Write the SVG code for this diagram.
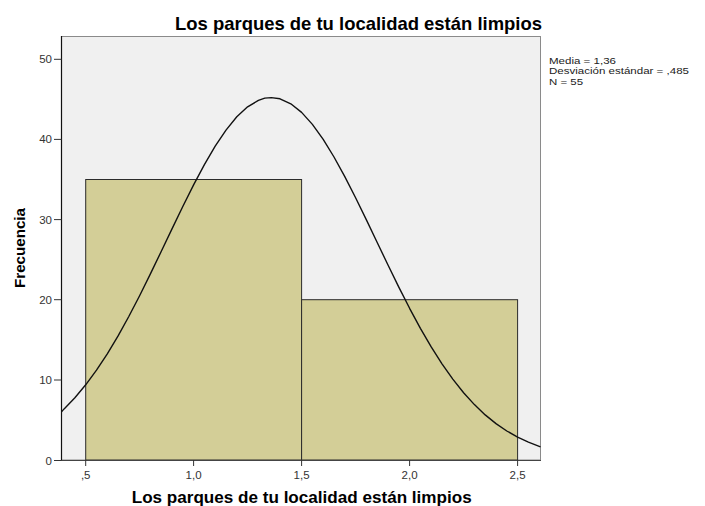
<svg xmlns="http://www.w3.org/2000/svg" width="705" height="506" viewBox="0 0 705 506">
  <style>
    text { font-family: "Liberation Sans", Arial, sans-serif; }
    .title { font-size: 18.5px; font-weight: bold; fill: #000; }
    .axtitle { font-size: 16.5px; font-weight: bold; fill: #000; }
    .tick { font-size: 11.5px; fill: #333; }
    .legend { font-size: 9.5px; fill: #222; }
    .bar { fill: #d3ce97; stroke: #2b2b2b; stroke-width: 1; }
    .tk { stroke: #333; stroke-width: 1; }
  </style>
  <rect width="705" height="506" fill="#fff"/>
  <g id="title">
    <text class="title" x="175" y="30" textLength="367" lengthAdjust="spacingAndGlyphs">Los parques de tu localidad están limpios</text>
  </g>
  <g id="plot-area">
    <rect x="61.5" y="36.5" width="479" height="423.5" fill="#f0f0f0" stroke="#8a8a8a" stroke-width="1"/>
  </g>
  <g id="bars">
    <rect id="bar1" class="bar" x="85.7" y="179.5" width="215.9" height="280.5"/>
    <rect id="bar2" class="bar" x="301.6" y="299.7" width="216" height="160.3"/>
  </g>
  <g id="curve">
    <polyline fill="none" stroke="#111" stroke-width="1.4" stroke-linejoin="round" points="61.5,411.9 64.1,408.9 74.9,397.7 85.7,384.8 96.5,370.1 107.3,353.9 118.1,335.9 128.8,316.5 139.6,295.7 150.4,273.9 161.2,251.5 172.0,228.9 182.8,206.5 193.6,184.9 204.4,164.6 215.2,146.2 226.0,130.1 236.8,116.8 247.6,106.8 258.4,100.4 264.8,98.1 271.3,97.6 280.0,98.8 290.8,103.8 301.6,112.4 312.4,124.4 323.2,139.4 334.0,157.0 344.8,176.6 355.6,197.7 366.4,219.9 377.2,242.5 388.0,265.0 398.8,287.1 409.6,308.3 420.4,328.3 431.2,346.9 442.0,363.8 452.8,379.1 463.6,392.7 474.4,404.6 485.2,414.9 496.0,423.6 506.8,431.0 517.6,437.1 528.4,442.1 540.5,446.8"/>
  </g>
  <g id="axes">
    <line x1="61.5" y1="36" x2="61.5" y2="460.5" stroke="#111" stroke-width="1.2"/>
    <line x1="61" y1="460.5" x2="541" y2="460.5" stroke="#444" stroke-width="1.2"/>
    <g id="y-ticks">
      <line class="tk" x1="54" y1="460.5" x2="61.5" y2="460.5"/>
      <line class="tk" x1="54" y1="380" x2="61.5" y2="380"/>
      <line class="tk" x1="54" y1="299.7" x2="61.5" y2="299.7"/>
      <line class="tk" x1="54" y1="219.6" x2="61.5" y2="219.6"/>
      <line class="tk" x1="54" y1="139.4" x2="61.5" y2="139.4"/>
      <line class="tk" x1="54" y1="59.3" x2="61.5" y2="59.3"/>
      <text class="tick" x="52" y="464.5" text-anchor="end">0</text>
      <text class="tick" x="52" y="384" text-anchor="end">10</text>
      <text class="tick" x="52" y="303.7" text-anchor="end">20</text>
      <text class="tick" x="52" y="223.6" text-anchor="end">30</text>
      <text class="tick" x="52" y="143.4" text-anchor="end">40</text>
      <text class="tick" x="52" y="63.3" text-anchor="end">50</text>
    </g>
    <g id="x-ticks">
      <line class="tk" x1="85.7" y1="460" x2="85.7" y2="466"/>
      <line class="tk" x1="193.6" y1="460" x2="193.6" y2="466"/>
      <line class="tk" x1="301.6" y1="460" x2="301.6" y2="466"/>
      <line class="tk" x1="409.6" y1="460" x2="409.6" y2="466"/>
      <line class="tk" x1="517.6" y1="460" x2="517.6" y2="466"/>
      <text class="tick" x="85.7" y="478.5" text-anchor="middle">,5</text>
      <text class="tick" x="193.6" y="478.5" text-anchor="middle">1,0</text>
      <text class="tick" x="301.6" y="478.5" text-anchor="middle">1,5</text>
      <text class="tick" x="409.6" y="478.5" text-anchor="middle">2,0</text>
      <text class="tick" x="517.6" y="478.5" text-anchor="middle">2,5</text>
    </g>
    <text class="axtitle" x="301.7" y="503" text-anchor="middle" textLength="340" lengthAdjust="spacingAndGlyphs">Los parques de tu localidad están limpios</text>
    <text class="axtitle" transform="translate(24.5,248) rotate(-90)" x="0" y="0" text-anchor="middle" style="font-size:15px" textLength="80" lengthAdjust="spacingAndGlyphs">Frecuencia</text>
  </g>
  <g id="legend">
    <text class="legend" x="549" y="63.5" textLength="67" lengthAdjust="spacingAndGlyphs">Media = 1,36</text>
    <text class="legend" x="549" y="74.2" textLength="140" lengthAdjust="spacingAndGlyphs">Desviación estándar = ,485</text>
    <text class="legend" x="549" y="84.9" textLength="34" lengthAdjust="spacingAndGlyphs">N = 55</text>
  </g>
</svg>
